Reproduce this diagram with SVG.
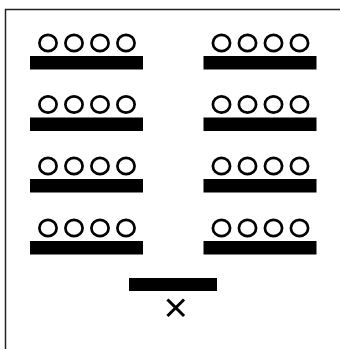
<svg xmlns="http://www.w3.org/2000/svg" width="340" height="349" viewBox="0 0 340 349">
  <style>
    .frame { fill: none; stroke: #222; stroke-width: 1.5; }
    .ring { fill: none; stroke: #000; stroke-width: 2.7; }
    .bar { fill: #000; }
    .cross { stroke: #000; stroke-width: 3; stroke-linecap: square; }
  </style>
  <defs>
    <!-- one stack: four rings resting on a bar -->
    <g id="stack">
      <ellipse class="ring" cx="48" cy="43" rx="8.6" ry="8.1"/>
      <ellipse class="ring" cx="74" cy="43" rx="8.6" ry="8.1"/>
      <ellipse class="ring" cx="100" cy="43" rx="8.6" ry="8.1"/>
      <ellipse class="ring" cx="126" cy="43" rx="8.6" ry="8.1"/>
      <rect class="bar" x="30" y="56" width="113" height="13.5"/>
    </g>
  </defs>
  <rect width="340" height="349" fill="#fff"/>
  <!-- outer frame, running past the right and bottom edges -->
  <rect class="frame" x="5.5" y="9.5" width="400" height="400"/>

  <g id="stack-l1"><use href="#stack"/></g>
  <g id="stack-r1"><use href="#stack" x="173.5"/></g>
  <g id="stack-l2"><use href="#stack" y="61.5"/></g>
  <g id="stack-r2"><use href="#stack" x="173.5" y="61.5"/></g>
  <g id="stack-l3"><use href="#stack" y="123"/></g>
  <g id="stack-r3"><use href="#stack" x="173.5" y="123"/></g>
  <g id="stack-l4"><use href="#stack" y="185"/></g>
  <g id="stack-r4"><use href="#stack" x="173.5" y="185"/></g>

  <g id="base">
    <rect class="bar" x="129" y="278" width="88" height="13"/>
    <line class="cross" x1="168.5" y1="300.5" x2="183" y2="315"/>
    <line class="cross" x1="183" y1="300.5" x2="168.5" y2="315"/>
  </g>
</svg>
